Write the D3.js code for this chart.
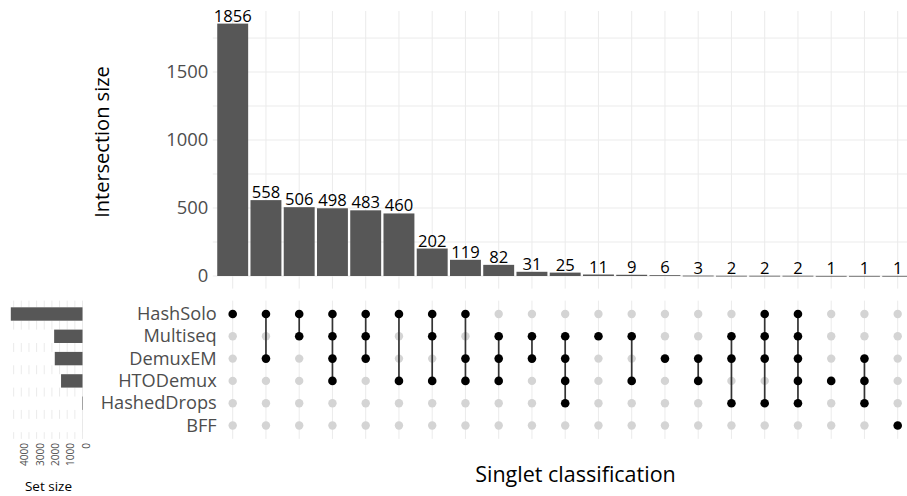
<!DOCTYPE html>
<html>
<head>
<meta charset="utf-8">
<script src="https://cdn.jsdelivr.net/npm/d3@7"></script>
<style>
  html, body { margin: 0; padding: 0; background: #fff; }
  svg { display: block; font-family: "Open Sans", sans-serif; }
</style>
</head>
<body>
<svg id="chart" width="907" height="496"></svg>
<script>
// ---- data ----
const sets = ["HashSolo", "Multiseq", "DemuxEM", "HTODemux", "HashedDrops", "BFF"];
const setSizes = [4686, 1853, 1812, 1402, 32, 1];
const intersectionSizes = [1856, 558, 506, 498, 483, 460, 202, 119, 82, 31, 25, 11, 9, 6, 3, 2, 2, 2, 1, 1, 1];
const intersectionMembers = [
  ["HashSolo"],
  ["HashSolo", "DemuxEM"],
  ["HashSolo", "Multiseq"],
  ["HashSolo", "Multiseq", "DemuxEM", "HTODemux"],
  ["HashSolo", "Multiseq", "DemuxEM"],
  ["HashSolo", "HTODemux"],
  ["HashSolo", "Multiseq", "HTODemux"],
  ["HashSolo", "DemuxEM", "HTODemux"],
  ["Multiseq", "DemuxEM", "HTODemux"],
  ["Multiseq", "DemuxEM"],
  ["Multiseq", "DemuxEM", "HTODemux", "HashedDrops"],
  ["Multiseq"],
  ["Multiseq", "HTODemux"],
  ["DemuxEM"],
  ["DemuxEM", "HTODemux"],
  ["Multiseq", "DemuxEM", "HashedDrops"],
  ["HashSolo", "Multiseq", "DemuxEM", "HashedDrops"],
  ["HashSolo", "Multiseq", "DemuxEM", "HTODemux", "HashedDrops"],
  ["HTODemux"],
  ["DemuxEM", "HTODemux", "HashedDrops"],
  ["BFF"]
];
const countTicks = [0, 500, 1000, 1500];
const countGrid = [0, 250, 500, 750, 1000, 1250, 1500, 1750];
const setSizeTicks = [0, 1000, 2000, 3000, 4000];
const setSizeGrid = [0, 500, 1000, 1500, 2000, 2500, 3000, 3500, 4000, 4500];

// ---- layout ----
const svg = d3.select("#chart");
const gridColor = "#ebebeb";
const textGray = "#4d4d4d";
const barColor = "#575757";

const cols = d3.range(intersectionSizes.length);
const step = 33.25;
const x = d3.scalePoint().domain(cols).range([232.7, 232.7 + step * (cols.length - 1)]);
const barPanel = { left: 232.7 - 0.6 * step, right: 232.7 + step * (cols.length - 1) + 0.6 * step };
const y = d3.scaleLinear().domain([0, 1856 * 1.05]).range([276, 11]);
const barBottom = y(-1856 * 0.05);

const rowY = d3.scalePoint().domain(sets).range([314, 425.5]);
const rowStep = rowY.step();
const matTop = rowY(sets[0]) - 0.6 * rowStep;
const matBottom = rowY(sets[sets.length - 1]) + 0.6 * rowStep;

const sx = d3.scaleLinear().domain([0, 1000]).range([82.5, 82.5 - 15.3]);

// ---- bar panel gridlines ----
const gBar = svg.append("g");
gBar.selectAll("line.h").data(countGrid).join("line")
  .attr("x1", barPanel.left).attr("x2", barPanel.right)
  .attr("y1", d => y(d)).attr("y2", d => y(d))
  .attr("stroke", gridColor).attr("stroke-width", 1);
gBar.selectAll("line.v").data(cols).join("line")
  .attr("x1", d => x(d)).attr("x2", d => x(d))
  .attr("y1", y.range()[1]).attr("y2", barBottom)
  .attr("stroke", gridColor).attr("stroke-width", 1);

// bars
const bw = step * 0.93;
gBar.selectAll("rect.bar").data(intersectionSizes).join("rect")
  .attr("x", (d, i) => x(i) - bw / 2)
  .attr("width", bw)
  .attr("y", d => y(d))
  .attr("height", d => Math.max(0.8, y(0) - y(d)))
  .attr("fill", barColor);

// bar labels
gBar.selectAll("text.lab").data(intersectionSizes).join("text")
  .attr("x", (d, i) => x(i))
  .attr("y", d => y(d) - 2)
  .attr("text-anchor", "middle")
  .attr("font-size", "16.6px")
  .attr("fill", "#000")
  .text(d => d);

// y axis
const yAxis = d3.axisLeft(y).tickValues(countTicks).tickFormat(d3.format("d")).tickSize(0).tickPadding(0);
const gy = svg.append("g").attr("transform", `translate(${barPanel.left - 4.5},0)`).call(yAxis);
gy.select(".domain").remove();
gy.selectAll("text").attr("font-size", "18.4px").attr("fill", textGray)
  .attr("font-family", "Open Sans, sans-serif");

svg.append("text")
  .attr("transform", `translate(109,142) rotate(-90)`)
  .attr("text-anchor", "middle")
  .attr("font-size", "20px").attr("fill", "#000")
  .text("Intersection size");

// ---- matrix ----
const gMat = svg.append("g");
gMat.selectAll("line.v").data(cols).join("line")
  .attr("x1", d => x(d)).attr("x2", d => x(d))
  .attr("y1", matTop).attr("y2", matBottom)
  .attr("stroke", gridColor).attr("stroke-width", 1);

cols.forEach(i => {
  const members = intersectionMembers[i];
  const g = gMat.append("g");
  g.selectAll("circle.bg").data(sets.filter(s => !members.includes(s))).join("circle")
    .attr("cx", x(i)).attr("cy", s => rowY(s)).attr("r", 4.2)
    .attr("fill", "#d4d4d4");
  const ys = members.map(s => rowY(s));
  if (members.length > 1) {
    g.append("line")
      .attr("x1", x(i)).attr("x2", x(i))
      .attr("y1", d3.min(ys)).attr("y2", d3.max(ys))
      .attr("stroke", "#333").attr("stroke-width", 1.7);
  }
  g.selectAll("circle.fg").data(members).join("circle")
    .attr("cx", x(i)).attr("cy", s => rowY(s)).attr("r", 4.3)
    .attr("fill", "#000");
});

// row labels
svg.append("g").selectAll("text").data(sets).join("text")
  .attr("x", 216.7)
  .attr("y", s => rowY(s))
  .attr("dy", "0.33em")
  .attr("text-anchor", "end")
  .attr("font-size", "18.2px")
  .attr("fill", textGray)
  .text(s => s);

// ---- set size panel ----
const gSet = svg.append("g");
gSet.selectAll("line.v").data(setSizeGrid).join("line")
  .attr("x1", d => sx(d)).attr("x2", d => sx(d))
  .attr("y1", matTop).attr("y2", matBottom)
  .attr("stroke", gridColor).attr("stroke-width", 1);
// white row bands interrupting the gridlines
const bandH = rowStep * 0.6;
gSet.selectAll("rect.band").data(sets).join("rect")
  .attr("x", 0).attr("width", sx(0) - 0.5)
  .attr("y", s => rowY(s) - bandH / 2).attr("height", bandH)
  .attr("fill", "#fff");
gSet.selectAll("rect.bar").data(setSizes).join("rect")
  .attr("x", d => sx(d))
  .attr("width", d => sx(0) - sx(d))
  .attr("y", (d, i) => rowY(sets[i]) - bandH / 2)
  .attr("height", bandH)
  .attr("fill", barColor);

// set size tick labels (rotated)
gSet.selectAll("text.tick").data(setSizeTicks).join("text")
  .attr("transform", d => `translate(${sx(d) + 3.5},443) rotate(-90)`)
  .attr("text-anchor", "end")
  .attr("dy", "0.35em")
  .attr("font-size", "10px")
  .attr("fill", textGray)
  .text(d => d);

svg.append("text")
  .attr("x", 48.5).attr("y", 491)
  .attr("text-anchor", "middle")
  .attr("font-size", "13.5px").attr("fill", "#000")
  .text("Set size");

svg.append("text")
  .attr("x", 575.5).attr("y", 482)
  .attr("text-anchor", "middle")
  .attr("font-size", "21.5px").attr("fill", "#000")
  .text("Singlet classification");
</script>
</body>
</html>
